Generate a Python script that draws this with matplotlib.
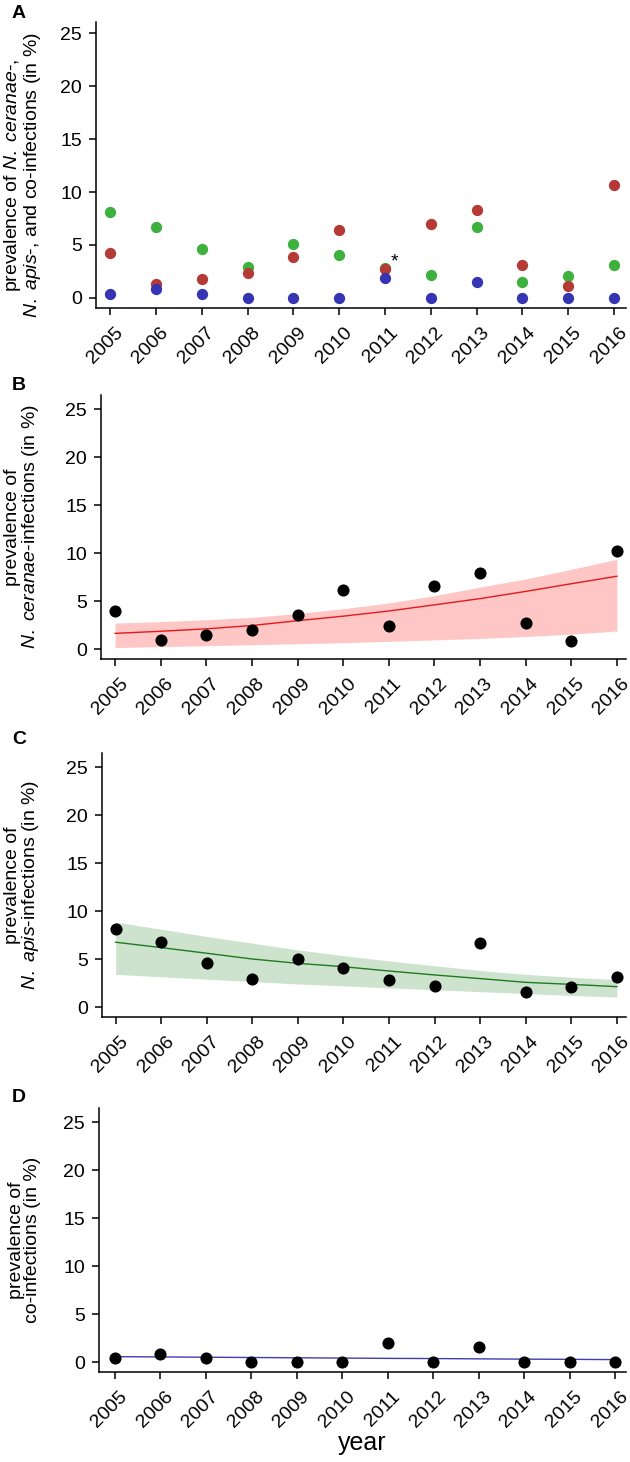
import matplotlib
matplotlib.use("Agg")
import matplotlib.pyplot as plt
import matplotlib.transforms as mtransforms

plt.rcParams['font.family'] = ['Liberation Sans', 'DejaVu Sans']
plt.rcParams['mathtext.fontset'] = 'custom'
plt.rcParams['mathtext.rm'] = 'Liberation Sans'
plt.rcParams['mathtext.it'] = 'Liberation Sans:italic'

# ---------------- data ----------------
years = [2005, 2006, 2007, 2008, 2009, 2010, 2011, 2012, 2013, 2014, 2015, 2016]
year_labels = [str(y) for y in years]
y_ticks = [0, 5, 10, 15, 20, 25]

# Panel A
a_apis = [8.13, 6.70, 4.60, 2.93, 5.08, 4.04, 2.80, 2.14, 6.68, 1.48, 2.05, 3.09]
a_ceranae = [4.26, 1.32, 1.83, 2.36, 3.88, 6.46, 2.77, 6.94, 8.29, 3.09, 1.17, 10.62]
a_coinf = [0.35, 0.85, 0.41, 0.0, 0.0, 0.0, 1.92, 0.0, 1.51, 0.0, 0.0, 0.0]

# Panel B (N. ceranae)
b_obs = [3.93, 0.97, 1.50, 2.02, 3.58, 6.12, 2.40, 6.54, 7.93, 2.71, 0.83, 10.19]
b_fit = [1.63, 1.85, 2.10, 2.45, 2.95, 3.42, 3.96, 4.60, 5.25, 6.00, 6.80, 7.58]
b_upper = [2.70, 2.85, 3.05, 3.30, 3.70, 4.20, 4.80, 5.55, 6.45, 7.30, 8.30, 9.35]
b_lower = [0.15, 0.25, 0.35, 0.45, 0.55, 0.66, 0.80, 0.95, 1.10, 1.30, 1.55, 1.88]

# Panel C (N. apis)
c_obs = [8.14, 6.75, 4.62, 2.92, 5.04, 4.07, 2.82, 2.19, 6.71, 1.60, 2.05, 3.16]
c_fit = [6.75, 6.19, 5.60, 5.00, 4.55, 4.20, 3.75, 3.34, 2.96, 2.57, 2.36, 2.12]
c_upper = [8.85, 8.10, 7.35, 6.65, 5.95, 5.35, 4.80, 4.30, 3.80, 3.40, 3.10, 2.85]
c_lower = [3.40, 3.15, 2.90, 2.65, 2.40, 2.20, 2.00, 1.80, 1.60, 1.40, 1.20, 1.05]

# Panel D (co-infections)
d_obs = [0.42, 0.87, 0.45, 0.0, 0.0, 0.0, 1.98, 0.0, 1.57, 0.0, 0.0, 0.0]
d_fit = [0.56, 0.53, 0.50, 0.47, 0.44, 0.41, 0.38, 0.36, 0.33, 0.30, 0.28, 0.25]

# ---------------- figure ----------------
W, H = 630, 1462
fig = plt.figure(figsize=(W / 100, H / 100), dpi=100)


def px_axes(left, top, right, bottom):
    return fig.add_axes([left / W, 1 - bottom / H, (right - left) / W, (bottom - top) / H])


def style(ax, xlim, ylim):
    ax.set_xlim(*xlim)
    ax.set_ylim(*ylim)
    for s in ['top', 'right']:
        ax.spines[s].set_visible(False)
    for s in ['left', 'bottom']:
        ax.spines[s].set_linewidth(1.1)
    ax.set_xticks(years)
    ax.set_yticks(y_ticks)
    ax.tick_params(direction='out', length=5, width=1.1)
    ax.tick_params(axis='y', pad=5)
    ax.tick_params(axis='x', pad=11)
    ax.set_xticklabels(year_labels, rotation=45, ha='right', va='center',
                       rotation_mode='anchor', fontsize=14)
    ax.set_yticklabels([str(t) for t in y_ticks], fontsize=14)
    shift = mtransforms.ScaledTranslation(10 / 100, 0, fig.dpi_scale_trans)
    for lab in ax.get_xticklabels():
        lab.set_transform(lab.get_transform() + shift)


def place_ylabel(ax, text, left_px, width_px, yfrac=0.5, right_px=41):
    ax.set_ylabel(text, fontsize=14, linespacing=0.95)
    ax.yaxis.set_label_coords((right_px - left_px) / width_px, yfrac)


ms_col = 66
ms_blk = 76
green = '#3db03d'
red = '#b33a35'
blue = '#3535b3'

# Panel A
axA = px_axes(96, 22, 626, 308)
axA.scatter(years, a_apis, s=ms_col, color=green, zorder=3, linewidths=0)
axA.scatter(years, a_ceranae, s=ms_col, color=red, zorder=4, linewidths=0)
axA.scatter(years, a_coinf, s=ms_col, color=blue, zorder=5, linewidths=0)
axA.text(2011.2, 2.6, '*', fontsize=14, ha='center', va='bottom')
style(axA, (2004.69, 2016.26), (-0.95, 26.05))
place_ylabel(axA, 'prevalence of $\\mathit{N.\\ ceranae}$-,\n$\\mathit{N.\\ apis}$-, and co-infections (in %)',
             96, 530, 0.465, right_px=43)

# Panel B
axB = px_axes(101, 395, 626, 659)
axB.fill_between(years, b_lower, b_upper, color='#ffc6c6', linewidth=0, zorder=1)
axB.plot(years, b_fit, color='#e31a1c', linewidth=1.0, zorder=2)
axB.scatter(years, b_obs, s=ms_blk, color='black', zorder=3, linewidths=0)
style(axB, (2004.69, 2016.2), (-1.04, 26.46))
place_ylabel(axB, 'prevalence of\n$\\mathit{N.\\ ceranae}$-infections (in %)', 101, 525)

# Panel C
axC = px_axes(102, 753, 626, 1017)
axC.fill_between(years, c_lower, c_upper, color='#cde3cd', linewidth=0, zorder=1)
axC.plot(years, c_fit, color='#1f7a1f', linewidth=1.0, zorder=2)
axC.scatter(years, c_obs, s=ms_blk, color='black', zorder=3, linewidths=0)
style(axC, (2004.70, 2016.2), (-1.04, 26.46))
place_ylabel(axC, 'prevalence of\n$\\mathit{N.\\ apis}$-infections (in %)', 102, 524)

# Panel D
axD = px_axes(99, 1108, 626, 1372)
axD.plot(years, d_fit, color='#4040b0', linewidth=1.0, zorder=2)
axD.scatter(years, d_obs, s=ms_blk, color='black', zorder=3, linewidths=0)
style(axD, (2004.65, 2016.24), (-1.04, 26.46))
place_ylabel(axD, 'prevalence of\nco-infections (in %)', 99, 527)
axD.set_xlabel('year', fontsize=18, labelpad=0)

# panel letters
for lab, y in [('A', 14), ('B', 385), ('C', 740), ('D', 1097)]:
    fig.text(12 / W, 1 - y / H, lab, fontsize=14, fontweight='bold', ha='left', va='center')

fig.savefig('out.png', dpi=100)
